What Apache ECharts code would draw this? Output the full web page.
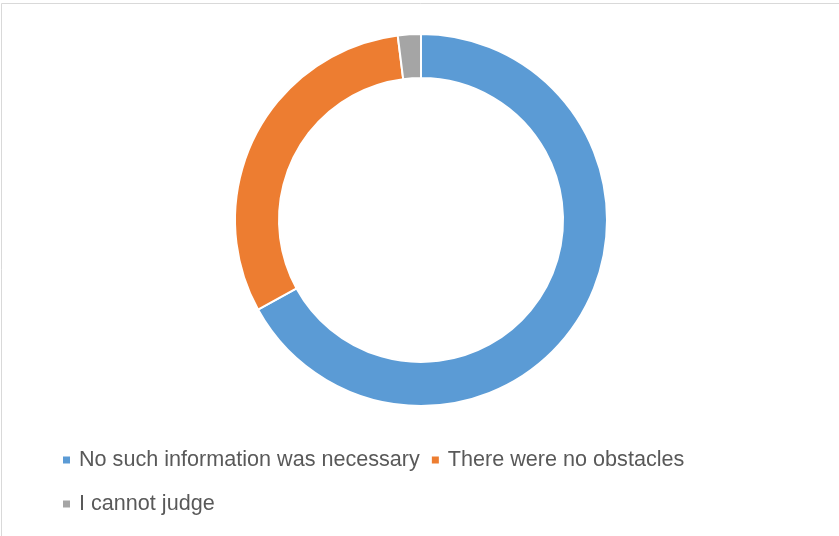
<!DOCTYPE html>
<html>
<head>
<meta charset="utf-8">
<script src="https://cdn.jsdelivr.net/npm/echarts@6/dist/echarts.min.js"></script>
<style>
	html, body { margin: 0; padding: 0; background: #fff; }
	#chart { width: 839px; height: 536px; }
</style>
</head>
<body>
<div id="chart"></div>
<script>
	let chart = echarts.init(document.getElementById('chart'))

	// answers and share (%)
	let names = ['No such information was necessary', 'There were no obstacles', 'I cannot judge']
	let values = [67, 31, 2]
	let colors = ['#5b9bd5', '#ed7d31', '#a5a5a5']

	let data = []
	for (let i = 0; i < names.length; i++) {
		data.push({
			value: values[i],
			name: names[i],
			itemStyle: { color: colors[i] }
		})
	}

	let legendText = {
		color: '#595959',
		fontSize: 21.6,
		fontFamily: 'Liberation Sans',
		padding: [0, 0, 0, 3]
	}

	let option = {
		backgroundColor: '#fff',
		animation: false,
		legend: [{
				left: 56,
				top: 444,
				itemWidth: 9,
				itemHeight: 9,
				itemGap: 10,
				icon: 'rect',
				data: names.slice(0, 2),
				textStyle: legendText
			},
			{
				left: 56,
				top: 488,
				itemWidth: 9,
				itemHeight: 9,
				icon: 'rect',
				data: names.slice(2),
				textStyle: legendText
			}
		],
		graphic: [{
				type: 'line',
				shape: { x1: 1.5, y1: 3.5, x2: 839, y2: 3.5 },
				style: { stroke: '#d9d9d9', lineWidth: 1 }
			},
			{
				type: 'line',
				shape: { x1: 1.5, y1: 3.5, x2: 1.5, y2: 536 },
				style: { stroke: '#d9d9d9', lineWidth: 1 }
			}
		],
		series: [{
			type: 'pie',
			center: [421, 220],
			radius: [142, 186],
			startAngle: 90,
			clockwise: true,
			label: { show: false },
			labelLine: { show: false },
			itemStyle: {
				borderColor: '#fff',
				borderWidth: 2
			},
			emphasis: { disabled: true },
			data: data
		}]
	}

	chart.setOption(option)
</script>
</body>
</html>
